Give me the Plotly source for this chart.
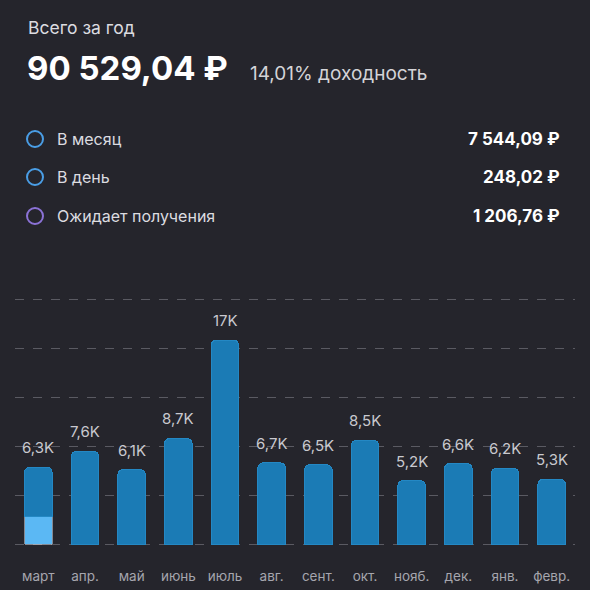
import plotly.graph_objects as go

months = ['март', 'апр.', 'май', 'июнь', 'июль', 'авг.',
          'сент.', 'окт.', 'нояб.', 'дек.', 'янв.', 'февр.']
totals = [6.3, 7.6, 6.1, 8.65, 16.7, 6.65, 6.5, 8.5, 5.2, 6.6, 6.2, 5.3]
received = [2.25, 0, 0, 0, 0, 0, 0, 0, 0, 0, 0, 0]
bar_labels = ['6,3K', '7,6K', '6,1K', '8,7K', '17K', '6,7K',
              '6,5K', '8,5K', '5,2K', '6,6K', '6,2K', '5,3K']

summary_names = ['В месяц', 'В день', 'Ожидает получения']
summary_values = ['7 544,09 ₽', '248,02 ₽', '1 206,76 ₽']
summary_colors = ['#4a9ee6', '#4a9ee6', '#8b72d6']

BG = '#25252c'
FONT = 'Inter, Roboto, sans-serif'
W, H = 590, 590
M = dict(l=15, r=15, t=298, b=44)


def px_x(x):
    return (x - M['l']) / (W - M['l'] - M['r'])


def px_y(y):
    return (H - M['b'] - y) / (H - M['t'] - M['b'])


rest = [t - r for t, r in zip(totals, received)]

fig = go.Figure()
fig.add_trace(go.Bar(x=months, y=received, marker_color='#5bb8f4',
                     width=0.59, hoverinfo='skip'))
fig.add_trace(go.Bar(x=months, y=rest, marker_color='#1b7bb5',
                     marker_line=dict(color='#2488c4', width=1),
                     width=0.59, hoverinfo='skip'))

annotations = []
for m, t, lab in zip(months, totals, bar_labels):
    annotations.append(dict(x=m, y=t, xref='x', yref='y', text=lab,
                            showarrow=False, yanchor='bottom', yshift=8,
                            font=dict(family=FONT, size=15, color='#c9c9cf')))

annotations += [
    dict(x=px_x(26), y=px_y(27), text='Всего за год', xanchor='left',
         font=dict(family=FONT, size=17.5, color='#dcdce0')),
    dict(x=px_x(25), y=px_y(68), text='<b>90 529,04 ₽</b>', xanchor='left',
         font=dict(family=FONT, size=33, color='#ffffff')),
    dict(x=px_x(248), y=px_y(74), text='14,01% доходность', xanchor='left',
         font=dict(family=FONT, size=19, color='#d4d4d8')),
]
shapes = []
rows_y = [139, 177, 216]
for name, val, col, yy in zip(summary_names, summary_values, summary_colors, rows_y):
    annotations.append(dict(x=px_x(55), y=px_y(yy), text=name, xanchor='left',
                            font=dict(family=FONT, size=16, color='#dcdce0')))
    annotations.append(dict(x=px_x(562), y=px_y(yy), text=f'<b>{val}</b>',
                            xanchor='right',
                            font=dict(family=FONT, size=17, color='#ffffff')))
    shapes.append(dict(type='circle', xref='paper', yref='paper',
                       xsizemode='pixel', ysizemode='pixel',
                       xanchor=px_x(35), yanchor=px_y(yy),
                       x0=-8, x1=8, y0=-8, y1=8,
                       line=dict(color=col, width=2)))
for a in annotations:
    a.setdefault('xref', 'paper')
    a.setdefault('yref', 'paper')
    a.setdefault('yanchor', 'middle')
    a.setdefault('showarrow', False)

fig.update_layout(
    width=W, height=H, margin=M,
    paper_bgcolor=BG, plot_bgcolor=BG,
    barmode='stack', barcornerradius=5,
    showlegend=False,
    annotations=annotations, shapes=shapes,
    font=dict(family=FONT),
    xaxis=dict(showgrid=False, showline=False, zeroline=False,
               tickfont=dict(size=13.5, color='#a6a6ae'),
               ticklabelstandoff=20, range=[-0.5, 11.5], automargin=False),
    yaxis=dict(range=[-0.15, 20.15], tickvals=[0, 4, 8, 12, 16, 20],
               showticklabels=False, zeroline=False, automargin=False,
               gridcolor='#5a5a62', griddash='dash', gridwidth=1),
)

fig.write_html('out.html', config={'displayModeBar': False},
               post_script="document.body.style.margin='0';")
